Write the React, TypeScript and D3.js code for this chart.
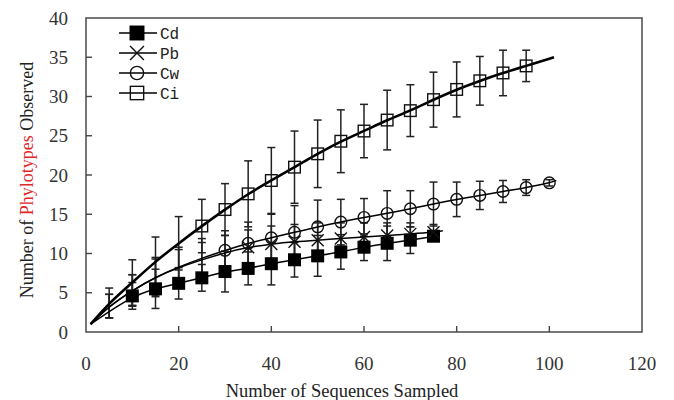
import React from "react";
import * as d3 from "d3";

// ---- data ----
const ciX = [5, 10, 15, 20, 25, 30, 35, 40, 45, 50, 55, 60, 65, 70, 75, 80, 85, 90, 95];
const ciMean = [3.7, 6.3, 9.0, 11.3, 13.5, 15.6, 17.6, 19.3, 21.0, 22.7, 24.3, 25.6, 27.0, 28.2, 29.6, 30.9, 32.0, 33.0, 33.9];
const ciSd = [1.9, 2.9, 3.1, 3.4, 3.4, 3.3, 4.2, 4.2, 4.6, 4.3, 4.0, 3.4, 3.8, 3.3, 3.5, 3.5, 3.1, 2.9, 2.0];
const ciCurveEnds = [[1, 1.0], [101, 35.0]];
const ciMarkerFrom = 25;

const cwX = [5, 10, 15, 20, 25, 30, 35, 40, 45, 50, 55, 60, 65, 70, 75, 80, 85, 90, 95, 100];
const cwMean = [3.3, 5.3, 7.0, 8.3, 9.4, 10.4, 11.3, 12.0, 12.7, 13.4, 14.0, 14.6, 15.1, 15.7, 16.3, 16.9, 17.4, 17.9, 18.4, 19.0];
const cwSd = [1.5, 2.0, 2.5, 2.5, 2.5, 2.5, 2.7, 3.0, 3.4, 3.4, 2.9, 2.4, 2.9, 2.3, 2.8, 2.2, 1.8, 1.4, 1.0, 0.4];
const cwCurveEnds = [[1, 1.0], [101.5, 19.3]];
const cwMarkerFrom = 30;

const pbX = [5, 10, 15, 20, 25, 30, 35, 40, 45, 50, 55, 60, 65, 70, 75];
const pbMean = [3.3, 5.3, 7.0, 8.2, 9.2, 10.1, 10.8, 11.2, 11.5, 11.7, 11.9, 12.1, 12.3, 12.5, 12.7];
const pbSd = [1.5, 2.0, 2.3, 2.3, 2.2, 2.2, 2.2, 2.3, 2.2, 2.2, 2.0, 1.8, 1.6, 1.4, 1.0];
const pbCurveEnds = [[1, 1.0], [77, 12.9]];
const pbMarkerFrom = 35;

const cdX = [10, 15, 20, 25, 30, 35, 40, 45, 50, 55, 60, 65, 70, 75];
const cdMean = [4.6, 5.5, 6.2, 6.9, 7.7, 8.1, 8.7, 9.2, 9.7, 10.2, 10.8, 11.3, 11.7, 12.2];
const cdSd = [1.7, 2.5, 2.0, 1.7, 2.6, 2.1, 2.7, 2.2, 2.6, 2.2, 1.7, 2.2, 1.7, 0.6];
const cdCurveEnds = [[1, 1.0], [75, 12.2]];
const cdMarkerFrom = 10;

const xTicks = [0, 20, 40, 60, 80, 100, 120];
const yTicks = [0, 5, 10, 15, 20, 25, 30, 35, 40];
const legendLabels = ["Cd", "Pb", "Cw", "Ci"];

const W = 674;
const H = 400;
const M = { left: 86, right: 642, top: 18, bottom: 332 };

const xScale = d3.scaleLinear().domain([0, 120]).range([M.left, M.right]);
const yScale = d3.scaleLinear().domain([0, 40]).range([M.bottom, M.top]);

type Series = {
  name: string;
  xs: number[];
  mean: number[];
  sd: number[];
  ends: number[][];
  from: number;
  marker: "fsq" | "x" | "circ" | "osq";
  lw: number;
};

const series: Series[] = [
  { name: "Cd", xs: cdX, mean: cdMean, sd: cdSd, ends: cdCurveEnds, from: cdMarkerFrom, marker: "fsq", lw: 1.5 },
  { name: "Pb", xs: pbX, mean: pbMean, sd: pbSd, ends: pbCurveEnds, from: pbMarkerFrom, marker: "x", lw: 1.5 },
  { name: "Cw", xs: cwX, mean: cwMean, sd: cwSd, ends: cwCurveEnds, from: cwMarkerFrom, marker: "circ", lw: 1.5 },
  { name: "Ci", xs: ciX, mean: ciMean, sd: ciSd, ends: ciCurveEnds, from: ciMarkerFrom, marker: "osq", lw: 2.6 },
];

const line = d3
  .line<number[]>()
  .x((d) => xScale(d[0]))
  .y((d) => yScale(d[1]))
  .curve(d3.curveBasis);

function Marker({ kind, cx, cy, big }: { kind: string; cx: number; cy: number; big?: boolean }) {
  const s = big ? 1.15 : 1;
  if (kind === "fsq") {
    const h = 6.5 * s;
    return <rect x={cx - h} y={cy - h} width={2 * h} height={2 * h} fill="#000" />;
  }
  if (kind === "osq") {
    const h = 5.8 * s;
    return <rect x={cx - h} y={cy - h} width={2 * h} height={2 * h} fill="none" stroke="#111" strokeWidth={1.4} />;
  }
  if (kind === "circ") {
    return <circle cx={cx} cy={cy} r={5.8 * s} fill="none" stroke="#111" strokeWidth={1.4} />;
  }
  const h = 6 * s;
  return (
    <g stroke="#111" strokeWidth={1.4}>
      <line x1={cx - h} y1={cy - h} x2={cx + h} y2={cy + h} />
      <line x1={cx - h} y1={cy + h} x2={cx + h} y2={cy - h} />
    </g>
  );
}

export default function App() {
  const serif = "'Liberation Serif', 'Times New Roman', serif";
  return (
    <svg
      width={W}
      height={H}
      style={{ position: "absolute", left: 0, top: 0, background: "#fff" }}
      xmlns="http://www.w3.org/2000/svg"
    >
      <rect x={0} y={0} width={W} height={H} fill="#fff" />
      {/* frame */}
      <rect
        x={M.left}
        y={M.top}
        width={M.right - M.left}
        height={M.bottom - M.top}
        fill="none"
        stroke="#555"
        strokeWidth={1.6}
      />
      {/* x ticks */}
      {xTicks.map((t) => (
        <g key={"xt" + t}>
          {t > 0 && t < 120 && (
            <line x1={xScale(t)} x2={xScale(t)} y1={M.bottom} y2={M.bottom - 6} stroke="#444" strokeWidth={1.4} />
          )}
          <text x={xScale(t)} y={370} textAnchor="middle" fontFamily={serif} fontSize={19} fill="#333">
            {t}
          </text>
        </g>
      ))}
      {/* y ticks */}
      {yTicks.map((t) => (
        <g key={"yt" + t}>
          {t > 0 && t < 40 && (
            <line x1={M.left} x2={M.left + 6} y1={yScale(t)} y2={yScale(t)} stroke="#444" strokeWidth={1.4} />
          )}
          <text x={68} y={yScale(t)} dy="0.35em" textAnchor="end" fontFamily={serif} fontSize={19} fill="#333">
            {t}
          </text>
        </g>
      ))}
      {/* axis titles */}
      <text x={342} y={397} textAnchor="middle" fontFamily={serif} fontSize={18.5} fill="#222">
        Number of Sequences Sampled
      </text>
      <text
        transform="translate(33,180) rotate(-90)"
        textAnchor="middle"
        fontFamily={serif}
        fontSize={18}
        fill="#222"
      >
        Number of <tspan fill="#e02828">Phylotypes</tspan> Observed
      </text>
      {/* error bars */}
      {series.map((s) =>
        s.xs.map((x, i) => {
          const px = xScale(x);
          const y1 = yScale(s.mean[i] + s.sd[i]);
          const y2 = yScale(s.mean[i] - s.sd[i]);
          return (
            <g key={s.name + "e" + i} stroke="#222" strokeWidth={1.5}>
              <line x1={px} x2={px} y1={y1} y2={y2} />
              <line x1={px - 4} x2={px + 4} y1={y1} y2={y1} />
              <line x1={px - 4} x2={px + 4} y1={y2} y2={y2} />
            </g>
          );
        })
      )}
      {/* curves */}
      {series.map((s) => {
        const pts = [s.ends[0], ...s.xs.map((x, i) => [x, s.mean[i]])];
        if (s.ends[1][0] > s.xs[s.xs.length - 1]) pts.push(s.ends[1]);
        return (
          <path key={s.name + "l"} d={line(pts) || ""} fill="none" stroke="#000" strokeWidth={s.lw} />
        );
      })}
      {/* markers */}
      {series.map((s) =>
        s.xs.map((x, i) =>
          x >= s.from ? (
            <Marker key={s.name + "m" + i} kind={s.marker} cx={xScale(x)} cy={yScale(s.mean[i])} />
          ) : null
        )
      )}
      {/* legend */}
      {series.map((s, i) => {
        const cy = 33 + i * 20;
        return (
          <g key={"lg" + i}>
            <line x1={119} x2={157} y1={cy} y2={cy} stroke="#000" strokeWidth={1.6} />
            <Marker kind={s.marker} cx={137} cy={cy} big />
            <text x={160} y={cy} dy="0.35em" fontFamily="'Liberation Mono', monospace" fontSize={16} fill="#222">
              {legendLabels[i]}
            </text>
          </g>
        );
      })}
    </svg>
  );
}
